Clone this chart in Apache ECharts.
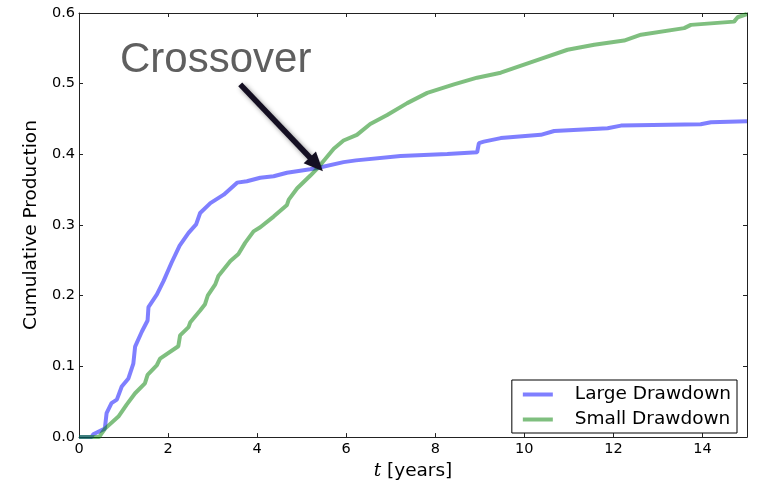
<!DOCTYPE html>
<html>
<head>
<meta charset="utf-8">
<script src="https://cdn.jsdelivr.net/npm/echarts@6/dist/echarts.min.js"></script>
<style>html,body{margin:0;padding:0;background:#fff;}#c{width:757px;height:486px;}</style>
</head>
<body>
<div id="c"></div>
<script>
const xTicks = [0, 2, 4, 6, 8, 10, 12, 14];
const yTicks = [0.0, 0.1, 0.2, 0.3, 0.4, 0.5, 0.6];
const seriesNames = ['Large Drawdown', 'Small Drawdown'];

const tLarge = [0, 0.28, 0.32, 0.58, 0.62, 0.73, 0.85, 0.96, 1.11, 1.22, 1.26, 1.41, 1.54, 1.56, 1.75, 1.90, 2.08, 2.26, 2.46, 2.63, 2.72, 2.95, 3.25, 3.55, 3.77, 4.07, 4.37, 4.67, 5.19, 5.38, 5.94, 6.22, 6.26, 7.22, 8.27, 8.94, 8.98, 9.09, 9.47, 10.37, 10.67, 11.87, 12.17, 13.96, 14.19, 15.0];
const vLarge = [0, 0, 0.004, 0.012, 0.034, 0.048, 0.053, 0.0715, 0.083, 0.104, 0.128, 0.149, 0.165, 0.184, 0.202, 0.221, 0.247, 0.271, 0.289, 0.301, 0.317, 0.331, 0.343, 0.36, 0.362, 0.367, 0.369, 0.374, 0.379, 0.381, 0.389, 0.3915, 0.394, 0.3977, 0.4005, 0.403, 0.416, 0.418, 0.423, 0.4276, 0.433, 0.437, 0.4407, 0.4425, 0.4454, 0.447];

const tSmall = [0, 0.45, 0.585, 0.885, 1.07, 1.26, 1.48, 1.54, 1.75, 1.82, 2.23, 2.27, 2.46, 2.50, 2.72, 2.83, 2.89, 3.06, 3.13, 3.40, 3.58, 3.73, 3.92, 4.07, 4.37, 4.67, 4.71, 4.90, 5.19, 5.38, 5.72, 5.94, 6.24, 6.54, 6.92, 7.37, 7.82, 8.42, 8.94, 9.47, 10.37, 10.97, 11.57, 12.24, 12.62, 13.59, 13.74, 14.71, 14.79, 15.0];
const vSmall = [0, 0, 0.012, 0.029, 0.046, 0.062, 0.076, 0.088, 0.102, 0.111, 0.1285, 0.144, 0.1556, 0.1626, 0.179, 0.188, 0.20, 0.216, 0.228, 0.249, 0.259, 0.2748, 0.291, 0.2968, 0.312, 0.3285, 0.336, 0.352, 0.3697, 0.382, 0.408, 0.4196, 0.4276, 0.443, 0.4556, 0.4725, 0.487, 0.499, 0.5085, 0.5155, 0.535, 0.548, 0.5552, 0.561, 0.5693, 0.5786, 0.5832, 0.5878, 0.594, 0.5986];

const annotationText = 'Crossover';
const arrowFrom = [3.62, 0.499];
const arrowTo = [5.33, 0.386];

const pairs = (t, v) => t.map((x, i) => [x, v[i]]);

const chart = echarts.init(document.getElementById('c'), null, {renderer: 'canvas'});
const font = 'DejaVu Sans';
const axisColor = '#222';

const baseAxis = {
  type: 'value',
  axisLine: {show: true, onZero: false, lineStyle: {color: axisColor, width: 1}},
  axisTick: {show: true, inside: true, length: 4, lineStyle: {color: axisColor}},
  splitLine: {show: false},
};

chart.setOption({
  animation: false,
  backgroundColor: '#fff',
  grid: {left: 79, right: 10, top: 13, bottom: 45, containLabel: false},
  xAxis: [
    Object.assign({}, baseAxis, {
      min: 0, max: 15, interval: 2, position: 'bottom',
      axisLabel: {show: true, margin: 5, color: '#000', fontFamily: font, fontSize: 14.5, showMaxLabel: false,
        formatter: v => xTicks.includes(v) ? String(v) : ''},
      name: '{i|t} [years]', nameLocation: 'middle', nameGap: 23,
      nameTextStyle: {color: '#000', fontFamily: font, fontSize: 18.5,
        rich: {i: {fontFamily: 'DejaVu Serif', fontStyle: 'italic', fontSize: 18.5, color: '#000'}}}
    }),
    Object.assign({}, baseAxis, {min: 0, max: 15, interval: 2, position: 'top', axisLabel: {show: false}})
  ],
  yAxis: [
    Object.assign({}, baseAxis, {
      min: 0, max: 0.6, interval: 0.1, position: 'left',
      axisLabel: {show: true, margin: 4, color: '#000', fontFamily: font, fontSize: 14.5,
        formatter: v => v.toFixed(1)},
      name: 'Cumulative Production', nameLocation: 'middle', nameGap: 35,
      nameTextStyle: {color: '#000', fontFamily: font, fontSize: 18.5}
    }),
    Object.assign({}, baseAxis, {min: 0, max: 0.6, interval: 0.1, position: 'right', axisLabel: {show: false}})
  ],
  legend: {
    data: seriesNames,
    orient: 'vertical',
    right: 20, bottom: 53,
    backgroundColor: '#fff',
    borderColor: '#000', borderWidth: 1, borderRadius: 0,
    padding: [5, 6, 4, 11],
    itemWidth: 30, itemHeight: 4, itemGap: 6,
    icon: 'rect',
    textStyle: {color: '#000', fontFamily: font, fontSize: 18.5, padding: [0, 0, 0, 17]}
  },
  series: [
    {
      name: seriesNames[0], type: 'line', data: pairs(tLarge, vLarge),
      showSymbol: false, symbol: 'none',
      lineStyle: {color: 'rgba(0,0,255,0.5)', width: 4},
      itemStyle: {color: 'rgba(0,0,255,0.5)'},
      z: 2
    },
    {
      name: seriesNames[1], type: 'line', data: pairs(tSmall, vSmall),
      showSymbol: false, symbol: 'none',
      lineStyle: {color: 'rgba(0,128,0,0.5)', width: 4},
      itemStyle: {color: 'rgba(0,128,0,0.5)'},
      z: 3,
      markLine: {
        silent: true, animation: false,
        symbol: ['none', 'triangle'], symbolSize: [17, 19],
        label: {show: false},
        lineStyle: {color: '#140f22', width: 5.5, type: 'solid',
          shadowBlur: 5, shadowColor: 'rgba(0,0,0,0.45)', shadowOffsetX: 2, shadowOffsetY: 2},
        emphasis: {disabled: true},
        data: [[{coord: arrowFrom}, {coord: arrowTo}]]
      }
    }
  ],
  graphic: [{
    type: 'text', left: 120, top: 39, silent: true,
    style: {text: annotationText, font: '42px "Liberation Sans", Arial, sans-serif', fill: '#5f5f5f'}
  }]
});
</script>
</body>
</html>
